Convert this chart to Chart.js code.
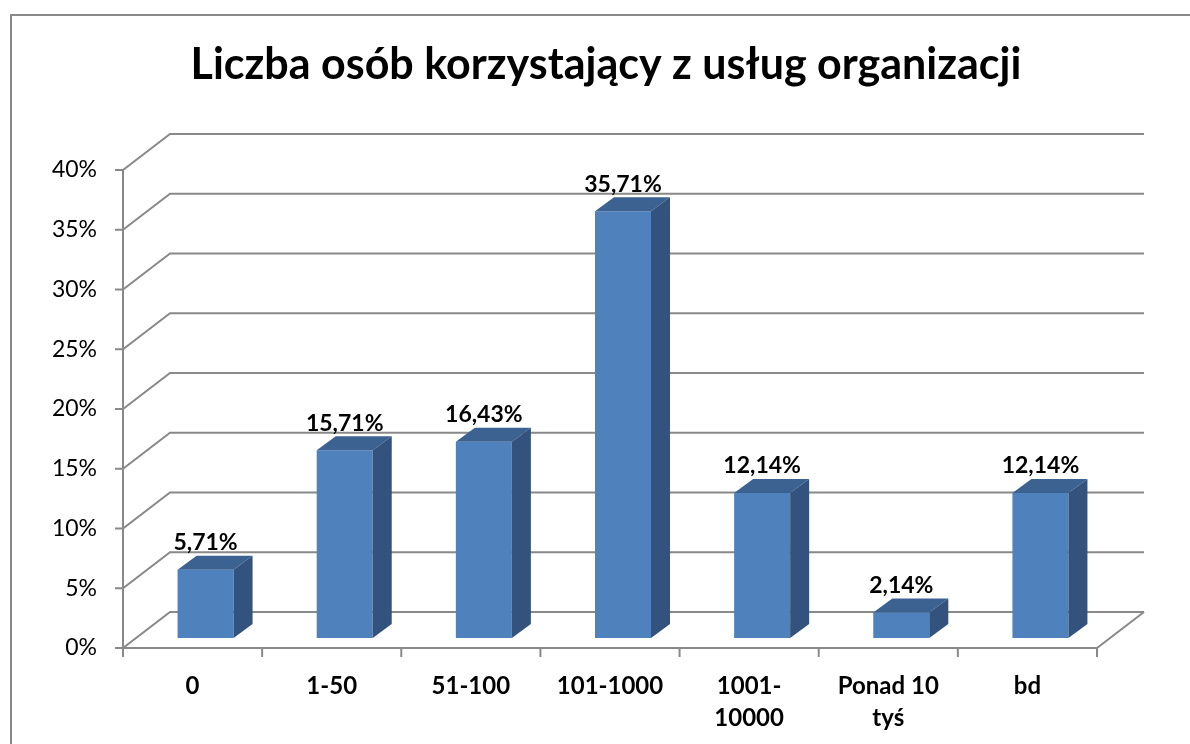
<!DOCTYPE html>
<html>
<head>
<meta charset="utf-8">
<script src="https://cdn.jsdelivr.net/npm/chart.js@4.4.0/dist/chart.umd.min.js"></script>
<style>
  html, body { margin: 0; padding: 0; background: #fff; }
  #wrap { width: 1190px; height: 744px; position: relative; }
</style>
</head>
<body>
<div id="wrap"><canvas id="BarChart" width="1190" height="744"></canvas></div>
<script>
var categories = ["0", "1-50", "51-100", "101-1000", ["1001-", "10000"], ["Ponad 10", "tyś"], "bd"];
var values = [5.71, 15.71, 16.43, 35.71, 12.14, 2.14, 12.14];
var yTicks = [0, 5, 10, 15, 20, 25, 30, 35, 40];
var title = "Liczba osób korzystający z usług organizacji";

// depth offsets of the fake 3d box (front plane / back wall relative to bar plane)
var FRONT = { dx: -13, dy: 10 };
var BACK = { dx: 34, dy: -26 };
var BAR_DX = 19, BAR_DY = -14;
var LINE = "#898989";

var walls = {
    id: "walls",
    beforeDatasetsDraw: function(chart) {
        var ctx = chart.ctx, a = chart.chartArea, y = chart.scales.y;
        ctx.save();
        ctx.strokeStyle = LINE;
        ctx.lineWidth = 2;
        var fl = a.left + FRONT.dx, fr = a.right + FRONT.dx;
        var bl = a.left + BACK.dx, br = a.right + BACK.dx;
        yTicks.forEach(function(v) {
            var p = y.getPixelForValue(v);
            var fy = p + FRONT.dy, by = p + BACK.dy;
            ctx.beginPath();
            ctx.moveTo(fl - 8, fy);
            ctx.lineTo(fl, fy);
            ctx.lineTo(bl, by);
            ctx.lineTo(br, by);
            ctx.stroke();
        });
        var top = y.getPixelForValue(40) + FRONT.dy;
        var bot = y.getPixelForValue(0) + FRONT.dy;
        ctx.beginPath();
        ctx.moveTo(fl, top);
        ctx.lineTo(fl, bot + 9);
        ctx.moveTo(fl, bot);
        ctx.lineTo(fr, bot);
        ctx.lineTo(br, y.getPixelForValue(0) + BACK.dy);
        ctx.stroke();
        var step = (fr - fl) / categories.length;
        for (var i = 0; i <= categories.length; i++) {
            ctx.beginPath();
            ctx.moveTo(fl + i * step, bot);
            ctx.lineTo(fl + i * step, bot + 9);
            ctx.stroke();
        }
        ctx.restore();
    },
    afterDatasetsDraw: function(chart) {
        var ctx = chart.ctx;
        var meta = chart.getDatasetMeta(0);
        ctx.save();
        meta.data.forEach(function(bar, i) {
            var l = bar.x - bar.width / 2, r = bar.x + bar.width / 2;
            var t = bar.y, b = bar.base;
            ctx.fillStyle = "#3c6291";
            ctx.beginPath();
            ctx.moveTo(l, t);
            ctx.lineTo(l + BAR_DX, t + BAR_DY);
            ctx.lineTo(r + BAR_DX, t + BAR_DY);
            ctx.lineTo(r, t);
            ctx.closePath();
            ctx.fill();
            ctx.fillStyle = "#33527d";
            ctx.beginPath();
            ctx.moveTo(r, t);
            ctx.lineTo(r + BAR_DX, t + BAR_DY);
            ctx.lineTo(r + BAR_DX, b + BAR_DY);
            ctx.lineTo(r, b);
            ctx.closePath();
            ctx.fill();
            ctx.fillStyle = "#000";
            ctx.font = "bold 23px Lato";
            ctx.textAlign = "center";
            ctx.textBaseline = "middle";
            ctx.fillText(values[i].toFixed(2).replace(".", ",") + "%", bar.x, t - 27);
        });
        ctx.restore();
    },
    afterDraw: function(chart) {
        var ctx = chart.ctx;
        ctx.save();
        ctx.strokeStyle = LINE;
        ctx.lineWidth = 2;
        ctx.beginPath();
        ctx.moveTo(11, 760);
        ctx.lineTo(11, 15);
        ctx.lineTo(1200, 15);
        ctx.stroke();
        ctx.fillStyle = "#000";
        ctx.font = "bold 43px Lato";
        ctx.textAlign = "center";
        ctx.textBaseline = "alphabetic";
        ctx.fillText(title, 606, 79);
        ctx.restore();
    }
};

var c = document.getElementById("BarChart");
var bar = new Chart(c, {
    type: "bar",
    data: {
        labels: categories,
        datasets: [{
            data: values,
            backgroundColor: "#4f81bd",
            barPercentage: 0.4026,
            categoryPercentage: 1
        }]
    },
    options: {
        responsive: false,
        animation: false,
        layout: { padding: { top: 160, right: 80, left: 0, bottom: 0 } },
        plugins: {
            legend: { display: false },
            tooltip: { enabled: false },
            title: { display: false }
        },
        scales: {
            x: {
                grid: { display: false },
                border: { display: false },
                ticks: {
                    color: "#000",
                    font: { family: "Lato", size: 24, weight: "bold", lineHeight: 1.33 },
                    labelOffset: -13,
                    padding: 24,
                    maxRotation: 0,
                    autoSkip: false
                },
                afterFit: function(s) { s.height = 106; }
            },
            y: {
                min: 0,
                max: 40,
                grid: { display: false },
                border: { display: false },
                ticks: {
                    stepSize: 5,
                    color: "#000",
                    font: { family: "Lato", size: 23 },
                    labelOffset: 10,
                    padding: 31,
                    callback: function(v) { return v + "%"; }
                },
                afterFit: function(s) { s.width = 136; }
            }
        }
    },
    plugins: [walls]
});
</script>
</body>
</html>
